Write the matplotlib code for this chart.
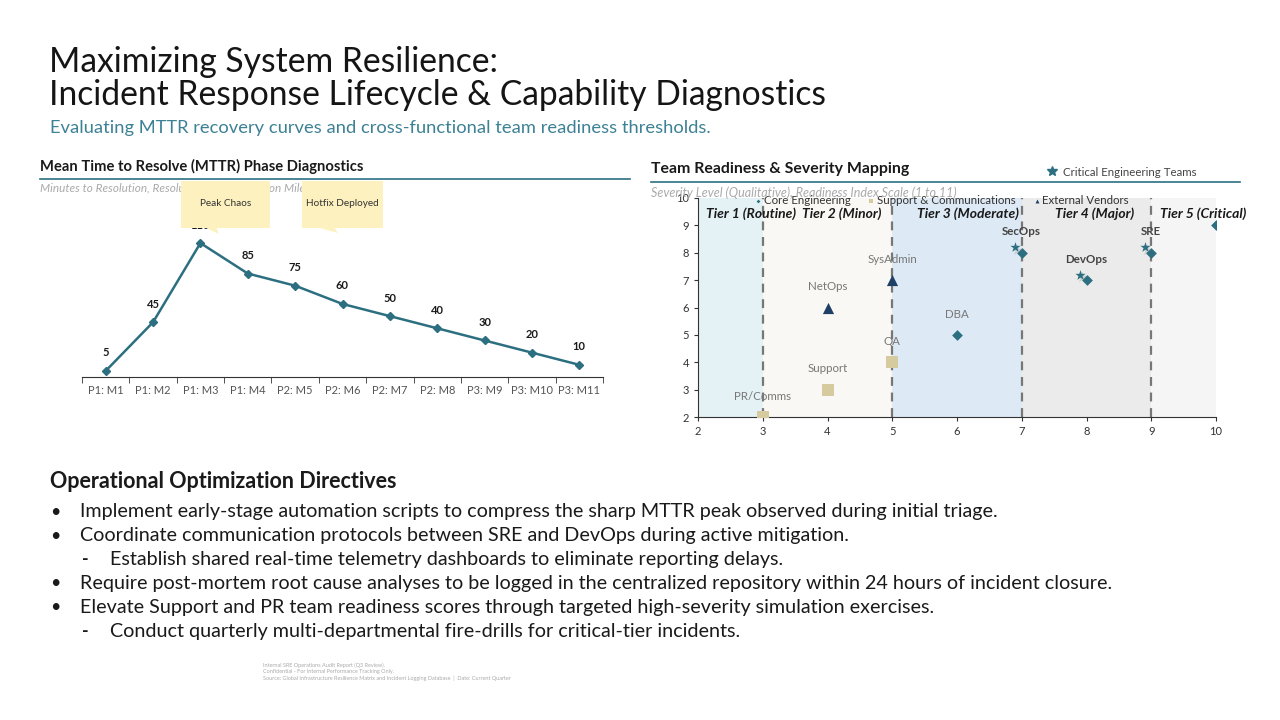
import matplotlib.pyplot as plt
from matplotlib.patches import Rectangle, Polygon
from matplotlib.lines import Line2D

# ---- data ----
phase_labels = ['P1: M1', 'P1: M2', 'P1: M3', 'P1: M4', 'P2: M5', 'P2: M6',
                'P2: M7', 'P2: M8', 'P3: M9', 'P3: M10', 'P3: M11']
mttr_minutes = [5, 45, 110, 85, 75, 60, 50, 40, 30, 20, 10]

core_names = ['DBA', 'SecOps', 'DevOps', 'SRE', '']
core_x = [6, 7, 8, 9, 10]
core_y = [5, 8, 7, 8, 9]

critical_x = [6.9, 7.9, 8.9]
critical_y = [8.2, 7.2, 8.2]

support_names = ['PR/Comms', 'Support', 'QA']
support_x = [3, 4, 5]
support_y = [2, 3, 4]

vendor_names = ['NetOps', 'SysAdmin']
vendor_x = [4, 5]
vendor_y = [6, 7]

tier_names = ['Tier 1 (Routine)', 'Tier 2 (Minor)', 'Tier 3 (Moderate)',
              'Tier 4 (Major)', 'Tier 5 (Critical)']
tier_label_x = [2.82, 4.22, 6.17, 8.13, 9.8]
tier_edges = [2, 3, 5, 7, 9, 10]
tier_colors = ['#e4f1f5', '#f9f8f4', '#dde9f5', '#ebebeb', '#f5f5f5']

directives = [
    (0, 'Implement early-stage automation scripts to compress the sharp MTTR peak observed during initial triage.'),
    (0, 'Coordinate communication protocols between SRE and DevOps during active mitigation.'),
    (1, 'Establish shared real-time telemetry dashboards to eliminate reporting delays.'),
    (0, 'Require post-mortem root cause analyses to be logged in the centralized repository within 24 hours of incident closure.'),
    (0, 'Elevate Support and PR team readiness scores through targeted high-severity simulation exercises.'),
    (1, 'Conduct quarterly multi-departmental fire-drills for critical-tier incidents.'),
]

footer_lines = [
    'Internal SRE Operations Audit Report (Q3 Review).',
    'Confidential - For Internal Performance Tracking Only.',
    'Source: Global Infrastructure Resilience Matrix and Incident Logging Database  |  Date: Current Quarter',
]

TEAL = '#2b6f80'
SAND = '#d6ca9f'
NAVY = '#1e3f66'
DARK = '#1a1a1a'

plt.rcParams['font.family'] = ['Lato', 'DejaVu Sans']

fig = plt.figure(figsize=(12.8, 7.2), dpi=100)


def fx(px):
    return px / 1280


def fy(py):
    return 1 - py / 720


# ---- header ----
fig.text(fx(49), fy(62), 'Maximizing System Resilience:', fontsize=24.2, color='#151515',
         va='center')
fig.text(fx(49), fy(95), 'Incident Response Lifecycle & Capability Diagnostics', fontsize=24.2,
         color='#151515', va='center')
fig.text(fx(50), fy(128), 'Evaluating MTTR recovery curves and cross-functional team readiness thresholds.',
         fontsize=13.2, color='#3d8195', va='center')

# ---- left panel: MTTR line ----
fig.text(fx(40), fy(166), 'Mean Time to Resolve (MTTR) Phase Diagnostics', fontsize=10.6,
         fontweight='bold', color=DARK, va='center')
fig.add_artist(Line2D([fx(40), fx(630)], [fy(179), fy(179)], color=TEAL, lw=1.2))
fig.text(fx(40), fy(188), 'Minutes to Resolution, Resolution Phase & Action Milestones',
         fontsize=8.5, style='italic', color='#aaaaaa', va='center')

ax1 = fig.add_axes([fx(82), fy(377), fx(603) - fx(82), fy(181) - fy(377)])
ax1.set_facecolor('none')
xs = list(range(len(phase_labels)))
ax1.plot(xs, mttr_minutes, color=TEAL, lw=1.8, marker='D', markersize=4.5, zorder=3)
for x, v in zip(xs, mttr_minutes):
    ax1.annotate(str(v), (x, v), xytext=(0, 9), textcoords='offset points', ha='center',
                 va='bottom', fontsize=8, fontweight='bold', color=DARK, zorder=2)
ax1.set_xlim(-0.5, len(xs) - 0.5)
ax1.set_ylim(0, 161)
ax1.set_xticks(xs)
ax1.set_xticklabels(phase_labels, fontsize=8, color='#555555')
ax1.set_xticks([x - 0.5 for x in xs] + [len(xs) - 0.5], minor=True)
ax1.tick_params(axis='x', which='major', length=0, pad=6)
ax1.tick_params(axis='x', which='minor', length=4, color='#333333')
ax1.set_yticks([])
for s in ['left', 'right', 'top']:
    ax1.spines[s].set_visible(False)
ax1.spines['bottom'].set_color('#333333')


def callout(x0, x1, y0, y1, tail, text):
    fig.add_artist(Rectangle((fx(x0), fy(y1)), fx(x1) - fx(x0), fy(y0) - fy(y1),
                             transform=fig.transFigure, facecolor='#fdf1c0',
                             edgecolor='none', zorder=5))
    fig.add_artist(Polygon([(fx(p[0]), fy(p[1])) for p in tail], closed=True,
                           transform=fig.transFigure, facecolor='#fdf1c0',
                           edgecolor='none', zorder=5))
    fig.text(fx((x0 + x1) / 2), fy(203), text, fontsize=7.2, color='#333333',
             ha='center', va='center', zorder=6)


callout(181, 270, 181, 228, [(204, 227), (216, 227), (219, 234)], 'Peak Chaos')
callout(302, 383, 181, 228, [(316, 227), (334, 227), (338, 233)], 'Hotfix Deployed')

# ---- right panel: readiness scatter ----
fig.text(fx(651), fy(169), 'Team Readiness & Severity Mapping', fontsize=11.4,
         fontweight='bold', color=DARK, va='center')
fig.add_artist(Line2D([fx(651), fx(1240)], [fy(182), fy(182)], color=TEAL, lw=1.2))
fig.text(fx(651), fy(193), 'Severity Level (Qualitative), Readiness Index Scale (1 to 11)',
         fontsize=9, style='italic', color='#aaaaaa', va='center')

ax2 = fig.add_axes([fx(698), fy(417), fx(1216) - fx(698), fy(198) - fy(417)])
for i, c in enumerate(tier_colors):
    ax2.axvspan(tier_edges[i], tier_edges[i + 1], color=c, lw=0, zorder=0)
for e in tier_edges[1:-1]:
    ax2.axvline(e, color='#777777', lw=1.6, ls=(0, (4, 3)), zorder=1)
for name, tx in zip(tier_names, tier_label_x):
    ax2.text(tx, 9.43, name, fontsize=10, fontweight='bold', style='italic', color=DARK,
             ha='center', va='center', zorder=4, clip_on=False)

# star shadows then stars
ax2.scatter([x + 0.03 for x in critical_x], [y - 0.1 for y in critical_y], marker='*',
            s=70, color='#bbbbbb', alpha=0.6, lw=0, zorder=2)
ax2.scatter(critical_x, critical_y, marker='*', s=60, color=TEAL, lw=0, zorder=3,
            label='Critical Engineering Teams')
h_core = ax2.scatter(core_x, core_y, marker='D', s=30, color=TEAL, lw=0, zorder=3,
                     label='Core Engineering')
h_sup = ax2.scatter(support_x, support_y, marker='s', s=75, color=SAND, lw=0, zorder=3,
                    label='Support & Communications')
h_ven = ax2.scatter(vendor_x, vendor_y, marker='^', s=65, color=NAVY, lw=0, zorder=3,
                    label='External Vendors')

for n, x, y in zip(core_names, core_x, core_y):
    if not n:
        continue
    bold = n in ('SecOps', 'DevOps', 'SRE')
    ax2.annotate(n, (x, y), xytext=(0, 11), textcoords='offset points', ha='center',
                 va='bottom', fontsize=8.3, fontweight='bold' if bold else 'normal',
                 color='#444444' if bold else '#777777', zorder=4)
for names, xs_, ys_ in [(support_names, support_x, support_y), (vendor_names, vendor_x, vendor_y)]:
    for n, x, y in zip(names, xs_, ys_):
        ax2.annotate(n, (x, y), xytext=(0, 11), textcoords='offset points', ha='center',
                     va='bottom', fontsize=8.3, color='#777777', zorder=4)

ax2.set_xlim(2, 10)
ax2.set_ylim(2, 10)
ax2.set_xticks(range(2, 11))
ax2.set_yticks(range(2, 11))
ax2.tick_params(labelsize=8, colors='#333333', length=3)
for s in ['right', 'top']:
    ax2.spines[s].set_visible(False)
for s in ['left', 'bottom']:
    ax2.spines[s].set_color('#333333')

leg = ax2.legend(handles=[h_core, h_sup, h_ven], loc='upper left', bbox_to_anchor=(0.1, 1.035),
                 ncol=3, frameon=False, fontsize=8.3, handlelength=0.6, handletextpad=0.2,
                 columnspacing=1.5, markerscale=0.35, borderaxespad=0)
for t in leg.get_texts():
    t.set_color('#333333')

star_leg = Line2D([], [], marker='*', color=TEAL, ls='none', markersize=7)
fig.legend(handles=[star_leg], labels=['Critical Engineering Teams'], loc='center left',
           bbox_to_anchor=(fx(1036), fy(172)), frameon=False, fontsize=8.3,
           handlelength=1.0, handletextpad=0.4, labelcolor='#444444')

# ---- directives ----
fig.text(fx(50), fy(482), 'Operational Optimization Directives', fontsize=15.5,
         fontweight='bold', color=DARK, va='center')
line_y = [512, 536, 559, 583, 607, 631]
for (lvl, txt), py in zip(directives, line_y):
    if lvl == 0:
        fig.text(fx(50), fy(py), '\u2022', fontsize=13, color=DARK, va='center')
        fig.text(fx(80), fy(py), txt, fontsize=14.2, color=DARK, va='center')
    else:
        fig.text(fx(82), fy(py), '-', fontsize=13, fontweight='bold', color=DARK, va='center')
        fig.text(fx(110), fy(py), txt, fontsize=14.2, color=DARK, va='center')

for i, t in enumerate(footer_lines):
    fig.text(fx(263), fy(665 + i * 6.5), t, fontsize=4, color='#aaaaaa', va='center')

fig.savefig('out.png', dpi=100)
